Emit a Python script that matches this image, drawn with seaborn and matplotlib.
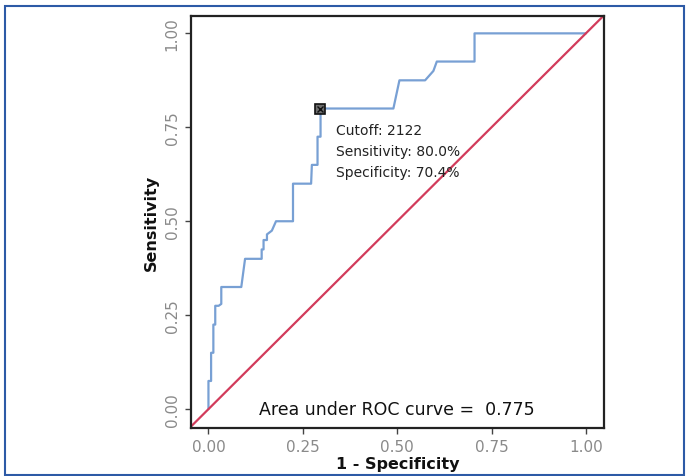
import numpy as np
import pandas as pd
import matplotlib
matplotlib.use("Agg")
import matplotlib.pyplot as plt
import seaborn as sns
from matplotlib.patches import Rectangle

# ROC curve: x = 1 - specificity, y = sensitivity
fpr = [0.000, 0.000, 0.007, 0.007, 0.013, 0.013, 0.018, 0.018, 0.027, 0.034,
       0.034, 0.087, 0.097, 0.141, 0.141, 0.146, 0.146, 0.155, 0.155, 0.168,
       0.179, 0.224, 0.224, 0.272, 0.274, 0.289, 0.289, 0.297, 0.297, 0.490,
       0.506, 0.574, 0.596, 0.605, 0.705, 0.705, 1.000]
tpr = [0.000, 0.075, 0.075, 0.150, 0.150, 0.225, 0.225, 0.275, 0.275, 0.280,
       0.325, 0.325, 0.400, 0.400, 0.425, 0.425, 0.450, 0.450, 0.465, 0.475,
       0.500, 0.500, 0.600, 0.600, 0.650, 0.650, 0.725, 0.725, 0.800, 0.800,
       0.875, 0.875, 0.900, 0.925, 0.925, 1.000, 1.000]

# optimal cutoff and summary
cutoff = 2122
cutoff_sens = 0.800
cutoff_spec = 0.704
auc = 0.775

ticks = [0.00, 0.25, 0.50, 0.75, 1.00]
tick_labels = ["0.00", "0.25", "0.50", "0.75", "1.00"]

sns.set_theme(style="ticks")
plt.rcParams['font.family'] = ['DejaVu Sans']

fig = plt.figure(figsize=(6.88, 4.77), dpi=100)
ax = fig.add_axes([0.2772, 0.100, 0.6007, 0.865])

roc = pd.DataFrame({"fpr": fpr, "tpr": tpr})
sns.lineplot(data=roc, x="fpr", y="tpr", sort=False, estimator=None,
             color="#78a0d4", linewidth=1.6, ax=ax)
ax.axline((0, 0), slope=1, color="#d23b5b", linewidth=1.6)

# cutoff point
cx, cy = 1 - cutoff_spec, cutoff_sens
ax.plot([cx], [cy], marker="s", markersize=6.5, markerfacecolor="#6e6e6e",
        markeredgecolor="#111111", markeredgewidth=1.2, zorder=5)
ax.plot([cx], [cy], marker="x", markersize=4.5, color="#111111",
        markeredgewidth=1.0, zorder=6)

lines = [f"Cutoff: {cutoff}",
         f"Sensitivity: {cutoff_sens * 100:.1f}%",
         f"Specificity: {cutoff_spec * 100:.1f}%"]
for i, s in enumerate(lines):
    ax.text(cx + 0.041, cy - 0.057 - i * 0.056, s, fontsize=10,
            color="#222222", ha="left", va="center")

ax.text(0.5, 0.0, f"Area under ROC curve =  {auc:.3f}", fontsize=12.5,
        color="#111111", ha="center", va="center")

ax.set_xlim(-0.047, 1.048)
ax.set_ylim(-0.051, 1.047)
ax.set_xticks(ticks)
ax.set_xticklabels(tick_labels)
ax.set_yticks(ticks)
ax.set_yticklabels(tick_labels, rotation=90, va="center")
ax.tick_params(length=4, width=1, color="#444444", labelcolor="#8a8a8a",
               labelsize=11, pad=4)

ax.set_xlabel("1 - Specificity", fontsize=11.5, fontweight="bold",
              color="#111111", labelpad=1)
ax.set_ylabel("Sensitivity", fontsize=11.5, fontweight="bold",
              color="#111111", labelpad=4)

for sp in ax.spines.values():
    sp.set_visible(True)
    sp.set_linewidth(1.6)
    sp.set_color("#222222")

# blue frame around the whole figure
fig.patches.append(Rectangle((0.0077, 0.003), 0.986, 0.982,
                             transform=fig.transFigure, fill=False,
                             edgecolor="#2d5aa6", linewidth=1.5))

fig.savefig("out.png", dpi=100)
